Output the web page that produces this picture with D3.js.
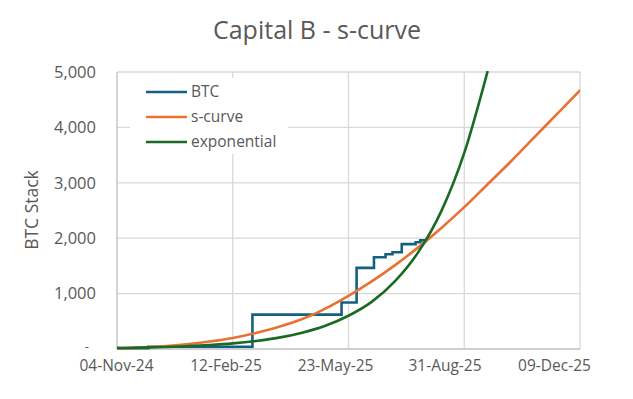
<!DOCTYPE html>
<html>
<head>
<meta charset="utf-8">
<script src="https://cdn.jsdelivr.net/npm/d3@7"></script>
<style>
  html, body { margin: 0; padding: 0; background: #fff; }
  svg { display: block; font-family: "Open Sans", "Liberation Sans", sans-serif; }
</style>
</head>
<body>
<svg id="chart" width="633" height="399"></svg>
<script>
// ---- data ----
const title = "Capital B - s-curve";
const yAxisTitle = "BTC Stack";
const seriesNames = ["BTC", "s-curve", "exponential"];

const btcDates  = ["2024-11-04","2024-12-01","2025-03-01","2025-05-17","2025-05-30","2025-06-14","2025-06-24","2025-06-30","2025-07-08","2025-07-20","2025-07-24","2025-07-29"];
const btcValues = [15, 40, 620, 840, 1465, 1655, 1710, 1746, 1893, 1928, 1960, 1960];

const curveDates = ["2024-11-04","2024-11-24","2024-12-14","2025-01-03","2025-01-23","2025-02-12","2025-03-04","2025-03-24","2025-04-13","2025-05-03","2025-05-23","2025-06-12","2025-07-02","2025-07-22","2025-08-11","2025-08-31","2025-09-20","2025-10-10","2025-10-30","2025-11-19","2025-12-09"];
const sCurveValues = [10, 25, 50, 85, 135, 200, 290, 400, 540, 730, 960, 1220, 1510, 1830, 2180, 2560, 2970, 3380, 3810, 4240, 4670];
const expValues    = [17, 24, 35, 50, 71, 101, 145, 205, 295, 420, 600, 850, 1220, 1740, 2480, 3540, 5000];

const xTickLabels = ["04-Nov-24","12-Feb-25","23-May-25","31-Aug-25","09-Dec-25"];
const xTickDates  = ["2024-11-04","2025-02-12","2025-05-23","2025-08-31","2025-12-09"];
const yTicks = [0, 1000, 2000, 3000, 4000, 5000];

// ---- layout ----
const colors = { btc: "#156082", s: "#E97132", exp: "#196B24" };
const textColor = "#595959";
const plot = { left: 117, right: 580, top: 72, bottom: 349 };

const parse = d3.utcParse("%Y-%m-%d");
const svg = d3.select("#chart");

const x = d3.scaleUtc()
  .domain([parse(xTickDates[0]), parse(xTickDates[xTickDates.length - 1])])
  .range([plot.left, plot.right]);
// label positions as rendered in the reference
const xLabel = d3.scaleUtc()
  .domain(x.domain())
  .range([plot.left - 1, plot.left + 437]);
const y = d3.scaleLinear().domain([0, 5000]).range([plot.bottom, plot.top]);

// title
svg.append("text")
  .attr("x", 317).attr("y", 39)
  .attr("text-anchor", "middle")
  .attr("font-size", 25)
  .attr("fill", textColor)
  .text(title);

// gridlines
svg.append("g")
  .selectAll("line.h")
  .data(yTicks.filter(d => d > 0))
  .join("line")
  .attr("x1", plot.left).attr("x2", plot.right)
  .attr("y1", d => y(d)).attr("y2", d => y(d))
  .attr("stroke", "#d9d9d9").attr("stroke-width", 1.3);

svg.append("g")
  .selectAll("line.v")
  .data(xTickDates.slice(1).map(parse))
  .join("line")
  .attr("x1", d => x(d)).attr("x2", d => x(d))
  .attr("y1", plot.top).attr("y2", plot.bottom)
  .attr("stroke", "#d9d9d9").attr("stroke-width", 1.3);

// axes lines
svg.append("line")
  .attr("x1", plot.left).attr("x2", plot.left)
  .attr("y1", plot.top).attr("y2", plot.bottom)
  .attr("stroke", "#bfbfbf").attr("stroke-width", 1.3);
svg.append("line")
  .attr("x1", plot.left).attr("x2", plot.right)
  .attr("y1", plot.bottom).attr("y2", plot.bottom)
  .attr("stroke", "#bfbfbf").attr("stroke-width", 1.3);

// y axis labels
const yAxis = d3.axisLeft(y).tickValues(yTicks)
  .tickSize(0).tickPadding(21)
  .tickFormat(d => d === 0 ? "-" : d3.format(",")(d));
const gy = svg.append("g").attr("transform", `translate(${plot.left},0)`).call(yAxis);
gy.select(".domain").remove();
gy.selectAll("text")
  .attr("fill", textColor)
  .attr("font-size", d => d === 0 ? 13 : 16.5)
  .attr("font-family", "Open Sans, Liberation Sans, sans-serif")
  .attr("dx", d => d === 0 ? -7 : 0)
  .attr("y", d => d === 0 ? -3 : 0);

// x axis labels
const xAxis = d3.axisBottom(xLabel)
  .tickValues(xTickDates.map(parse))
  .tickSize(0).tickPadding(11)
  .tickFormat((d, i) => xTickLabels[i]);
const gx = svg.append("g").attr("transform", `translate(0,${plot.bottom})`).call(xAxis);
gx.select(".domain").remove();
gx.selectAll("text")
  .attr("fill", textColor).attr("font-size", 15.5)
  .attr("font-family", "Open Sans, Liberation Sans, sans-serif");

// y axis title
svg.append("text")
  .attr("transform", `translate(38,210) rotate(-90)`)
  .attr("text-anchor", "middle")
  .attr("font-size", 17.5)
  .attr("fill", textColor)
  .text(yAxisTitle);

// clip
svg.append("clipPath").attr("id", "clip")
  .append("rect")
  .attr("x", plot.left).attr("y", plot.top - 1)
  .attr("width", plot.right - plot.left).attr("height", plot.bottom - plot.top + 2);

const g = svg.append("g").attr("clip-path", "url(#clip)");

const btcData = btcDates.map((d, i) => ({ date: parse(d), v: btcValues[i] }));
const sData = curveDates.map((d, i) => ({ date: parse(d), v: sCurveValues[i] }));
const eData = expValues.map((v, i) => ({ date: parse(curveDates[i]), v }));

const stepLine = d3.line().x(d => x(d.date)).y(d => y(d.v)).curve(d3.curveStepAfter);
const smoothLine = d3.line().x(d => x(d.date)).y(d => y(d.v)).curve(d3.curveMonotoneX);

g.append("path").datum(btcData)
  .attr("d", stepLine).attr("fill", "none")
  .attr("stroke", colors.btc).attr("stroke-width", 2.6).attr("stroke-linejoin", "miter");
g.append("path").datum(sData)
  .attr("d", smoothLine).attr("fill", "none")
  .attr("stroke", colors.s).attr("stroke-width", 2.6).attr("stroke-linecap", "round");
g.append("path").datum(eData)
  .attr("d", smoothLine).attr("fill", "none")
  .attr("stroke", colors.exp).attr("stroke-width", 2.6).attr("stroke-linecap", "round");

// legend
const legend = svg.append("g");
legend.append("rect")
  .attr("x", 130).attr("y", 78).attr("width", 158).attr("height", 76)
  .attr("fill", "#fff");
const legendColors = [colors.btc, colors.s, colors.exp];
const items = legend.selectAll("g.item").data(seriesNames).join("g")
  .attr("transform", (d, i) => `translate(0,${92 + i * 25})`);
items.append("line")
  .attr("x1", 146).attr("x2", 187).attr("y1", 0).attr("y2", 0)
  .attr("stroke", (d, i) => legendColors[i]).attr("stroke-width", 2.6);
items.append("text")
  .attr("x", 191).attr("y", 0).attr("dy", "0.35em")
  .attr("font-size", 15.5).attr("fill", textColor)
  .text(d => d);
</script>
</body>
</html>
